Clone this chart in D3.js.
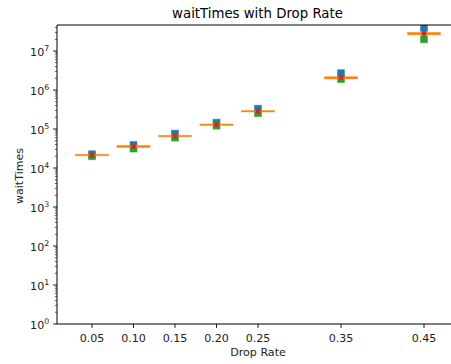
<!DOCTYPE html>
<html>
<head>
    <meta charset="utf-8">
    <title>waitTimes with Drop Rate</title>
    <script src="https://cdnjs.cloudflare.com/ajax/libs/d3/7.8.5/d3.min.js"></script>
    <style>
        html, body { margin: 0; padding: 0; background: #fff; }
        svg { display: block; font-family: "DejaVu Sans", sans-serif; }
    </style>
</head>
<body>
    <div id="chart"></div>
    <script>
        // values
        const dropRates = [0.05, 0.10, 0.15, 0.20, 0.25, 0.35, 0.45];
        const maxWait   = [2.25e4, 3.9e4, 7.6e4, 1.45e5, 3.3e5, 2.7e6, 3.9e7];
        const minWait   = [2.0e4, 3.15e4, 6.0e4, 1.22e5, 2.55e5, 1.9e6, 2.0e7];
        const q1Wait    = [2.13e4, 3.35e4, 6.35e4, 1.27e5, 2.75e5, 1.92e6, 2.6e7];
        const q3Wait    = [2.17e4, 3.8e4, 6.85e4, 1.31e5, 2.95e5, 2.2e6, 3.0e7];
        const meanWait  = [2.15e4, 3.55e4, 6.6e4, 1.29e5, 2.85e5, 2.1e6, 2.8e7];
        const xTicks = ["0.05", "0.10", "0.15", "0.20", "0.25", "0.35", "0.45"];
        const yExps = [0, 1, 2, 3, 4, 5, 6, 7];

        const W = 451, H = 364;
        const mLeft = 57, mTop = 25, mBottom = 324, mRight = 458;
        const fs = 11.1;

        const svg = d3.select("#chart").append("svg")
            .attr("width", W).attr("height", H);

        const x = d3.scaleLinear().domain([0.05, 0.45]).range([92, 424]);
        const y = d3.scaleLog().domain([1, Math.pow(10, (mBottom - mTop) / 39)]).range([mBottom, mTop]);

        const plot = svg.append("g");
        svg.append("clipPath").attr("id", "clip")
            .append("rect").attr("x", mLeft).attr("y", mTop).attr("width", mRight - mLeft).attr("height", mBottom - mTop);
        const marks = plot.append("g").attr("clip-path", "url(#clip)");

        const data = dropRates.map((d, i) => ({
            x: d, max: maxWait[i], min: minWait[i], q1: q1Wait[i], q3: q3Wait[i], mean: meanWait[i]
        }));

        const sq = 7;
        // max markers
        marks.selectAll(".mx").data(data).join("rect")
            .attr("x", d => x(d.x) - sq / 2).attr("y", d => y(d.max) - sq / 2)
            .attr("width", sq).attr("height", sq)
            .attr("fill", "#1f77b4").attr("stroke", "#1f77b4").attr("stroke-opacity", 0.45).attr("stroke-width", 1);
        // min markers
        marks.selectAll(".mn").data(data).join("rect")
            .attr("x", d => x(d.x) - sq / 2).attr("y", d => y(d.min) - sq / 2)
            .attr("width", sq).attr("height", sq)
            .attr("fill", "#2ca02c").attr("stroke", "#2ca02c").attr("stroke-opacity", 0.45).attr("stroke-width", 1);
        // median band
        const halfW = x(0.07) - x(0.05);
        marks.selectAll(".md").data(data).join("rect")
            .attr("x", d => x(d.x) - halfW).attr("width", halfW * 2)
            .attr("y", d => Math.min(y(d.q3), (y(d.q1) + y(d.q3)) / 2 - 0.75))
            .attr("height", d => Math.max(1.5, y(d.q1) - y(d.q3)))
            .attr("fill", "#ff7f0e").attr("stroke", "#ff7f0e").attr("stroke-opacity", 0.35).attr("stroke-width", 1);
        // mean dots
        marks.selectAll(".mean").data(data).join("circle")
            .attr("cx", d => x(d.x)).attr("cy", d => y(d.mean)).attr("r", 2.5)
            .attr("fill", "#d62728");

        // spines
        plot.append("path")
            .attr("d", `M${mRight},${mTop}H${mLeft}V${mBottom}H${mRight}`)
            .attr("fill", "none").attr("stroke", "#000").attr("stroke-width", 1);

        // x ticks
        const xt = plot.selectAll(".xt").data(dropRates).join("g")
            .attr("transform", d => `translate(${x(d)},${mBottom})`);
        xt.append("line").attr("y2", 3.9).attr("stroke", "#000").attr("stroke-width", 0.9);
        xt.append("text").attr("y", 17.5).attr("text-anchor", "middle")
            .attr("font-size", fs).attr("fill", "#222").text((d, i) => xTicks[i]);

        // y minor ticks
        const minor = [];
        yExps.forEach(e => { for (let k = 2; k <= 9; k++) { const v = k * Math.pow(10, e); if (v <= y.domain()[1]) minor.push(v); } });
        plot.selectAll(".ymin").data(minor).join("line")
            .attr("x1", mLeft - 2.2).attr("x2", mLeft)
            .attr("y1", d => y(d)).attr("y2", d => y(d))
            .attr("stroke", "#000").attr("stroke-width", 0.6);

        // y major ticks
        const yt = plot.selectAll(".yt").data(yExps).join("g")
            .attr("transform", d => `translate(${mLeft},${y(Math.pow(10, d))})`);
        yt.append("line").attr("x1", -3.9).attr("stroke", "#000").attr("stroke-width", 0.9);
        const lab = yt.append("text").attr("x", -7.8).attr("y", 5).attr("text-anchor", "end")
            .attr("font-size", fs).attr("fill", "#222");
        lab.append("tspan").text("10");
        lab.append("tspan").attr("dy", -5.5).attr("font-size", 7.8).text(d => d);

        // titles
        svg.append("text").attr("x", 257.5).attr("y", 18).attr("text-anchor", "middle")
            .attr("font-size", 13.3).attr("fill", "#000").text("waitTimes with Drop Rate");
        svg.append("text").attr("x", 258).attr("y", 356).attr("text-anchor", "middle")
            .attr("font-size", fs).attr("fill", "#222").text("Drop Rate");
        svg.append("text").attr("transform", "translate(23,176) rotate(-90)").attr("text-anchor", "middle")
            .attr("font-size", fs).attr("fill", "#222").text("waitTimes");
    </script>
</body>
</html>
